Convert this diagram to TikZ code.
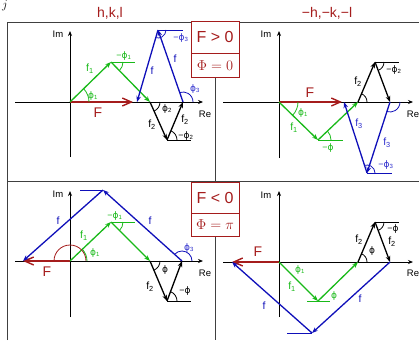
\documentclass[tikz,border=0pt]{standalone}
\usepackage{fontspec}
\setmainfont{Liberation Sans}
\newfontfamily\dvphi{DejaVu Sans}
\newcommand{\ph}{{\dvphi ϕ}}
\usetikzlibrary{arrows.meta}
\definecolor{dred}{RGB}{165,28,28}
\definecolor{vgreen}{RGB}{25,185,25}
\definecolor{vblue}{RGB}{15,15,185}
\definecolor{lblue}{RGB}{45,45,205}
\tikzset{
  frame/.style={line width=0.9pt, black!75},
  ax/.style={line width=0.8pt, -{Stealth[length=5pt,width=4pt]}},
  vec/.style={line width=1.3pt, -{Stealth[length=6pt,width=4.5pt]}},
  gv/.style={vec, vgreen},
  bv/.style={vec, vblue},
  kv/.style={vec, black},
  fv/.style={line width=1.4pt, dred, -{Straight Barb[length=9pt,width=8pt]}},
  hl/.style={line width=0.9pt},
  ang/.style={line width=0.8pt},
  lab/.style={font=\fontsize{10.5}{10.5}\selectfont, inner sep=0pt},
  plab/.style={font=\fontsize{9}{9}\selectfont, inner sep=0pt},
  flab/.style={font=\fontsize{14}{14}\selectfont, inner sep=0pt, dred},
  axlab/.style={font=\fontsize{9.5}{9.5}\selectfont, inner sep=0pt},
  ttl/.style={font=\fontsize{14}{14}\selectfont, inner sep=0pt, dred},
  boxst/.style={line width=1pt, draw=dred, fill=white},
}
\begin{document}
\begin{tikzpicture}[x=1pt,y=1pt]
\useasboundingbox (0,0) rectangle (419,-340);
% frame
\draw[frame] (7,-340) -- (7,-22) -- (419,-22);
\draw[frame] (7,-181) -- (419,-181);
\draw[frame] (215,-22) -- (215,-340);
% boxes
\draw[boxst] (191,-21) rectangle (239,-77);
\draw[line width=1pt, dred] (191,-53) -- (239,-53);
\node[font=\fontsize{16}{16}\selectfont, dred, inner sep=0pt] (b1) at (215,-37) {F > 0};
\node[font=\fontsize{14.5}{14.5}\selectfont, dred, inner sep=0pt] (b2) at (215,-65.5) {$\Phi = 0$};
\draw[boxst] (191,-182) rectangle (239,-236);
\draw[line width=1pt, dred] (191,-213) -- (239,-213);
\node[font=\fontsize{16}{16}\selectfont, dred, inner sep=0pt] (b3) at (215,-198) {F < 0};
\node[font=\fontsize{14.5}{14.5}\selectfont, dred, inner sep=0pt] (b4) at (215,-225) {$\Phi = \mathrm{\pi}$};
% titles
\node[ttl] (t1) at (110,-13) {h,k,l};
\node[ttl] (t2) at (327,-13) {−h,−k,−l};
\node[font=\fontsize{13}{13}\selectfont, inner sep=0pt] (jj) at (5,-6) {$j$};

% ================= top-left =================
\coordinate (O1) at (70,-102);
\coordinate (A1) at (111,-62);
\coordinate (B1) at (150,-102);
\coordinate (C1) at (167,-140);
\coordinate (D1) at (183,-102);
\coordinate (T1) at (158,-30);
\coordinate (E1) at (137,-102);
\coordinate (F1) at (133,-102);
\coordinate (X1a) at (15,-102); \coordinate (X1b) at (203,-102);
\coordinate (Y1a) at (70,-157); \coordinate (Y1b) at (70,-31);
\draw[ax] (X1a) -- (X1b);
\draw[ax] (Y1a) -- (Y1b);
\node[axlab] (im1) at (58,-34) {Im};
\node[axlab] (re1) at (205,-114) {Re};
\draw[hl,vgreen] (A1) -- ++(24,0);
\draw[hl,black] (C1) -- ++(24,0);
\draw[hl,vblue] (T1) -- ++(25,0);
\draw[fv] (O1) -- (F1);
\draw[gv] (O1) -- (A1);
\draw[gv] (A1) -- (B1);
\draw[kv] (B1) -- (C1);
\draw[kv] (C1) -- (D1);
\draw[bv] (D1) -- (T1);
\draw[bv] (T1) -- (E1);
\draw[ang,vgreen] (O1) ++(0:19) arc[start angle=0,end angle=44,radius=19];
\draw[ang,vgreen] (A1) ++(0:12) arc[start angle=0,end angle=-46,radius=12];
\draw[ang,black] (B1) ++(0:10) arc[start angle=0,end angle=-66,radius=10];
\draw[ang,black] (C1) ++(0:10) arc[start angle=0,end angle=67,radius=10];
\draw[ang,vblue] (D1) ++(0:10) arc[start angle=0,end angle=109,radius=10];
\draw[ang,vblue] (T1) ++(0:8) arc[start angle=0,end angle=-106,radius=8];
\node[flab] (F1l) at (98,-113) {F};
\node[lab,vgreen] (f11) at (90,-69) {f\textsubscript{1}};
\node[plab,vgreen] (p11) at (93,-96) {\ph\textsubscript{1}};
\node[plab,vgreen] (p12) at (124,-56) {−\ph\textsubscript{1}};
\node[lab,vblue] (fb1) at (152,-71) {f};
\node[lab,vblue] (fb2) at (175,-59) {f};
\node[plab,lblue] (p31) at (181,-38) {−\ph\textsubscript{3}};
\node[plab,lblue] (p32) at (195,-89) {\ph\textsubscript{3}};
\node[plab] (p21) at (167,-109) {\ph\textsubscript{2}};
\node[lab] (f21) at (152,-125) {f\textsubscript{2}};
\node[lab] (f22) at (185,-120) {f\textsubscript{2}};
\node[plab] (p22) at (186,-136) {−\ph\textsubscript{2}};

% ================= top-right =================
\coordinate (O2) at (279,-102);
\coordinate (A2) at (318,-140);
\coordinate (B2) at (358,-102);
\coordinate (C2) at (375,-62);
\coordinate (D2) at (390,-102);
\coordinate (T2) at (367,-173);
\coordinate (E2) at (344,-102);
\coordinate (F2) at (342,-102);
\coordinate (X2a) at (223,-102); \coordinate (X2b) at (413,-102);
\coordinate (Y2a) at (279,-158); \coordinate (Y2b) at (279,-31);
\draw[ax] (X2a) -- (X2b);
\draw[ax] (Y2a) -- (Y2b);
\node[axlab] (im2) at (266,-34) {Im};
\node[axlab] (re2) at (413,-114) {Re};
\draw[hl,vgreen] (A2) -- ++(25,0);
\draw[hl,black] (C2) -- ++(24,0);
\draw[hl,vblue] (T2) -- ++(25,0);
\draw[fv] (O2) -- (F2);
\draw[gv] (O2) -- (A2);
\draw[gv] (A2) -- (B2);
\draw[kv] (B2) -- (C2);
\draw[kv] (C2) -- (D2);
\draw[bv] (D2) -- (T2);
\draw[bv] (T2) -- (E2);
\draw[ang,vgreen] (O2) ++(0:19) arc[start angle=0,end angle=-44,radius=19];
\draw[ang,vgreen] (A2) ++(0:13) arc[start angle=0,end angle=44,radius=13];
\draw[ang,black] (B2) ++(0:9) arc[start angle=0,end angle=67,radius=9];
\draw[ang,black] (C2) ++(0:9) arc[start angle=0,end angle=-69,radius=9];
\draw[ang,vblue] (D2) ++(0:10) arc[start angle=0,end angle=-108,radius=10];
\draw[ang,vblue] (T2) ++(0:8) arc[start angle=0,end angle=108,radius=8];
\node[flab] (F2l) at (310,-93) {F};
\node[plab,vgreen] (q11) at (303,-113) {\ph\textsubscript{1}};
\node[lab,vgreen] (g11) at (294,-128) {f\textsubscript{1}};
\node[plab,vgreen] (q12) at (328,-148) {−\ph};
\node[lab] (g21) at (358,-82) {f\textsubscript{2}};
\node[plab] (q22) at (394,-70) {−\ph\textsubscript{2}};
\node[lab,lblue] (g31) at (359,-124) {f\textsubscript{3}};
\node[lab,lblue] (g32) at (387,-143) {f\textsubscript{3}};
\node[plab,lblue] (q31) at (386,-165) {−\ph\textsubscript{3}};

% ================= bottom-left =================
\coordinate (O3) at (70,-261);
\coordinate (A3) at (111,-222);
\coordinate (B3) at (150,-261);
\coordinate (C3) at (167,-301);
\coordinate (D3) at (182,-261);
\coordinate (T3) at (103,-190);
\coordinate (E3) at (23,-261);
\coordinate (X3a) at (15,-261); \coordinate (X3b) at (203,-261);
\coordinate (Y3a) at (70,-317); \coordinate (Y3b) at (70,-191);
\draw[ax] (X3a) -- (X3b);
\draw[ax] (Y3a) -- (Y3b);
\node[axlab] (im3) at (58,-194) {Im};
\node[axlab] (re3) at (205,-273) {Re};
\draw[hl,vgreen] (A3) -- ++(24,0);
\draw[hl,black] (C3) -- ++(24,0);
\draw[hl,vblue] (T3) -- ++(-23,0);
\draw[fv] (O3) -- (E3);
\draw[gv] (O3) -- (A3);
\draw[gv] (A3) -- (B3);
\draw[kv] (B3) -- (C3);
\draw[kv] (C3) -- (D3);
\draw[bv] (D3) -- (T3);
\draw[bv] (T3) -- (E3);
\draw[ang,dred] (O3) ++(0:16) arc[start angle=0,end angle=180,radius=16];
\draw[ang,vgreen] (O3) ++(0:17) arc[start angle=0,end angle=44,radius=17];
\draw[ang,vgreen] (A3) ++(0:12) arc[start angle=0,end angle=-45,radius=12];
\draw[ang,black] (B3) ++(0:10) arc[start angle=0,end angle=-67,radius=10];
\draw[ang,black] (C3) ++(0:10) arc[start angle=0,end angle=69,radius=10];
\draw[ang,vblue] (D3) ++(0:10) arc[start angle=0,end angle=138,radius=10];
\node[flab] (F3l) at (47,-272) {F};
\node[lab,vblue] (hb1) at (58,-221) {f};
\node[lab,vblue] (hb2) at (150,-221) {f};
\node[lab,vgreen] (h11) at (84,-236) {f\textsubscript{1}};
\node[plab,vgreen] (r11) at (95,-253) {\ph\textsubscript{1}};
\node[plab,vgreen] (r12) at (115,-216) {−\ph\textsubscript{1}};
\node[plab,lblue] (r31) at (189,-248) {\ph\textsubscript{3}};
\node[plab] (r21) at (165,-270) {\ph};
\node[lab] (h21) at (150,-287) {f\textsubscript{2}};
\node[plab] (r22) at (185,-291) {−\ph};

% ================= bottom-right =================
\coordinate (O4) at (279,-262);
\coordinate (A4) at (318,-301);
\coordinate (B4) at (358,-262);
\coordinate (C4) at (375,-222);
\coordinate (D4) at (390,-262);
\coordinate (T4) at (312,-333);
\coordinate (E4) at (232,-262);
\coordinate (X4a) at (223,-262); \coordinate (X4b) at (413,-262);
\coordinate (Y4a) at (279,-317); \coordinate (Y4b) at (279,-191);
\draw[ax] (X4a) -- (X4b);
\draw[ax] (Y4a) -- (Y4b);
\node[axlab] (im4) at (266,-195) {Im};
\node[axlab] (re4) at (413,-273) {Re};
\draw[hl,vgreen] (307,-301) -- (330,-301);
\draw[hl,black] (C4) -- ++(24,0);
\draw[hl,vblue] (T4) -- ++(-25,0);
\draw[fv] (O4) -- (E4);
\draw[gv] (O4) -- (A4);
\draw[gv] (A4) -- (B4);
\draw[kv] (B4) -- (C4);
\draw[kv] (C4) -- (D4);
\draw[bv] (D4) -- (T4);
\draw[bv] (T4) -- (E4);
\draw[ang,black] (B4) ++(0:9) arc[start angle=0,end angle=67,radius=9];
\draw[ang,black] (C4) ++(0:9) arc[start angle=0,end angle=-69,radius=9];
\node[flab] (F4l) at (258,-252) {F};
\node[plab,vgreen] (s11) at (300,-270) {\ph\textsubscript{1}};
\node[lab,vgreen] (k11) at (292,-287) {f\textsubscript{1}};
\node[plab,vgreen] (s12) at (334,-296) {\ph};
\node[lab,vblue] (kb1) at (360,-299) {f};
\node[lab,vblue] (kb2) at (264,-306) {f};
\node[lab] (k21) at (359,-240) {f\textsubscript{2}};
\node[plab] (s21) at (372,-251) {\ph};
\node[plab] (s22) at (393,-229) {−\ph};
\node[lab] (k22) at (392,-242) {f\textsubscript{2}};
\end{tikzpicture}
\end{document}
